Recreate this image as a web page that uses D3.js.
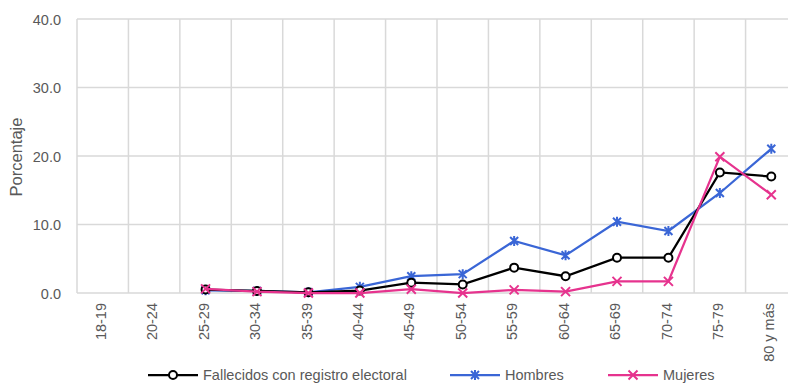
<!DOCTYPE html>
<html><head><meta charset="utf-8">
<script src="https://cdn.jsdelivr.net/npm/d3@7"></script>
<style>body{margin:0;background:#fff}svg{display:block}text{font-family:"Liberation Sans",Arial,sans-serif;fill:#595959}</style>
</head><body>
<svg id="c" width="788" height="383"></svg>
<script>
const categories = ["18-19","20-24","25-29","30-34","35-39","40-44","45-49","50-54","55-59","60-64","65-69","70-74","75-79","80 y más"];
const fallecidos = [null,null,0.5,0.3,0.1,0.35,1.5,1.25,3.7,2.45,5.15,5.15,17.6,17.0];
const hombres    = [null,null,0.4,0.3,0.1,0.9,2.45,2.75,7.6,5.5,10.4,9.05,14.6,21.05];
const mujeres    = [null,null,0.6,0.2,0.0,0.0,0.55,0.0,0.45,0.2,1.7,1.7,19.9,14.35];
const yTicks = [0,10,20,30,40];
const seriesNames = ["Fallecidos con registro electoral","Hombres","Mujeres"];

const svg = d3.select("#c");
const x = d3.scaleBand().domain(categories).range([77, 797]).padding(0);
const y = d3.scaleLinear().domain([0,40]).range([293, 19]);
const cx = c => x(c) + x.bandwidth()/2;

const grid = svg.append("g").attr("stroke","#d9d9d9").attr("stroke-width",1.5);
yTicks.forEach(t => grid.append("line").attr("x1",77).attr("x2",797).attr("y1",y(t)).attr("y2",y(t)));
categories.forEach(c => grid.append("line").attr("x1",x(c)).attr("x2",x(c)).attr("y1",y(40)).attr("y2",y(0)));

// y axis labels
const yAxis = d3.axisLeft(y).tickValues(yTicks).tickFormat(d3.format(".1f")).tickSize(0);
const ya = svg.append("g").attr("transform","translate(61,0)").call(yAxis);
ya.select(".domain").remove();
ya.selectAll("text").attr("font-size",14.5).attr("fill","#595959").attr("font-family",null)
  .attr("x",0).attr("dy","0.35em").attr("text-anchor","end");

// x axis labels
const xAxis = d3.axisBottom(x).tickSize(0);
const xa = svg.append("g").attr("transform","translate(0,293)").call(xAxis);
xa.select(".domain").remove();
xa.selectAll("text").attr("font-size",14.5).attr("fill","#595959").attr("font-family",null)
  .attr("x",0).attr("y",0).attr("dy","0.35em").attr("text-anchor","end")
  .attr("transform","translate(-2,10) rotate(-90)");

svg.append("text").attr("transform","translate(22,157) rotate(-90)").attr("text-anchor","middle")
  .attr("font-size",16.5).text("Porcentaje");

const colors = ["#000000","#3a66d6","#e6338e"];
const data = [fallecidos,hombres,mujeres];
const line = d3.line().defined(d=>d.v!=null).x(d=>cx(d.c)).y(d=>y(d.v));

function marker(g, type, color, px, py){
  if(type===0){
    g.append("circle").attr("cx",px).attr("cy",py).attr("r",4).attr("fill","#fff").attr("stroke",color).attr("stroke-width",2);
  } else if(type===1){
    const s=4;
    g.append("path").attr("d",`M${px-s},${py-s}L${px+s},${py+s}M${px-s},${py+s}L${px+s},${py-s}M${px},${py-s-1}L${px},${py+s+1}`)
      .attr("stroke",color).attr("stroke-width",2).attr("fill","none");
  } else {
    const s=4.5;
    g.append("path").attr("d",`M${px-s},${py-s}L${px+s},${py+s}M${px-s},${py+s}L${px+s},${py-s}`)
      .attr("stroke",color).attr("stroke-width",2).attr("fill","none");
  }
}

const order = [1,0,2];
order.forEach(i => {
  const pts = categories.map((c,k)=>({c, v: data[i][k]}));
  const g = svg.append("g");
  g.append("path").datum(pts).attr("d",line).attr("fill","none").attr("stroke",colors[i]).attr("stroke-width",2.25);
  pts.filter(p=>p.v!=null).forEach(p=>marker(g,i,colors[i],cx(p.c),y(p.v)));
});

// legend
const legX = [148, 450, 608];
seriesNames.forEach((n,i)=>{
  const g = svg.append("g");
  const ly = 375;
  g.append("line").attr("x1",legX[i]).attr("x2",legX[i]+50).attr("y1",ly).attr("y2",ly).attr("stroke",colors[i]).attr("stroke-width",2.25);
  marker(g,i,colors[i],legX[i]+25,ly);
  g.append("text").attr("x",legX[i]+55).attr("y",379.5).attr("font-size",14.5).text(n);
});
</script>
</body></html>
